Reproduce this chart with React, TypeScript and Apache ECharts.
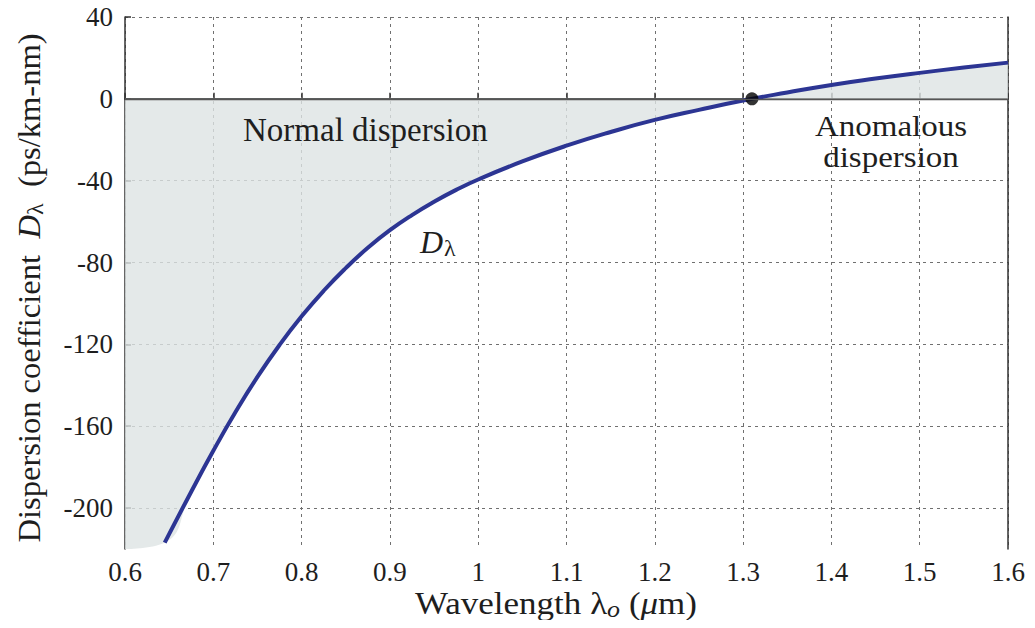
import React, { useEffect, useRef } from "react";
import * as echarts from "echarts";

const wavelength = [0.645, 0.675, 0.7, 0.725, 0.75, 0.775, 0.8, 0.825, 0.85, 0.875, 0.9, 0.925, 0.95, 0.975, 1.0, 1.05, 1.1, 1.15, 1.2, 1.25, 1.3, 1.35, 1.4, 1.45, 1.5, 1.55, 1.6];
const dispersion = [-216.9, -192, -172, -153.2, -135.9, -120.3, -106.3, -93.8, -82.7, -72.8, -64.2, -56.8, -50.3, -44.5, -39.4, -30.6, -22.9, -16.2, -10.3, -5.4, -0.85, 3.1, 6.8, 9.9, 12.7, 15.3, 17.7];
const yTicks = [-200, -160, -120, -80, -40, 0, 40];
const zeroPoint = [[1.31, 0]];
const xMin = 0.6, xMax = 1.6, yMin = -220, yMax = 40;

const FONT = '"Liberation Serif", "Times New Roman", serif';
const INK = "#1e1e1e";

export default function App() {
  const ref = useRef<HTMLDivElement>(null);
  useEffect(() => {
    const chart = echarts.init(ref.current!, null, { renderer: "svg" });
    const curve = wavelength.map((x, i) => [x, dispersion[i]]);
    const shade = [[xMin, yMin], ...curve];
    const gridLine = { show: true, lineStyle: { color: "#707070", type: [3, 4], width: 1 } };
    chart.setOption({
      animation: false,
      backgroundColor: "#fff",
      grid: { left: 125, right: 27, top: 17, bottom: 79 },
      xAxis: [
        {
          type: "value", min: xMin, max: xMax, interval: 0.1,
          axisLine: { show: true, lineStyle: { color: "#333", width: 1.5 } },
          axisTick: { show: true, inside: true, length: 6, lineStyle: { color: "#333", width: 1.5 } },
          axisLabel: { color: INK, fontFamily: FONT, fontSize: 27, margin: 9 },
          splitLine: gridLine,
        },
        {
          type: "value", min: xMin, max: xMax, position: "top",
          axisLine: { show: true, lineStyle: { color: "#333", width: 1.5 } },
          axisTick: { show: false }, axisLabel: { show: false }, splitLine: { show: false },
        },
      ],
      yAxis: [
        {
          type: "value", min: yMin, max: yMax,
          axisLine: { show: true, lineStyle: { color: "#333", width: 1.5 } },
          axisTick: { show: true, inside: true, length: 6, customValues: yTicks, lineStyle: { color: "#333", width: 1.5 } },
          axisLabel: { color: INK, fontFamily: FONT, fontSize: 27, margin: 12, customValues: yTicks },
          splitLine: gridLine,
        },
        {
          type: "value", min: yMin, max: yMax, position: "right",
          axisLine: { show: true, lineStyle: { color: "#333", width: 1.5 } },
          axisTick: { show: false }, axisLabel: { show: false }, splitLine: { show: false },
        },
      ],
      series: [
        {
          type: "line", data: shade, smooth: true, symbol: "none",
          lineStyle: { opacity: 0, width: 0 },
          areaStyle: { color: "#dde3e4", opacity: 0.8, origin: 0 },
          z: 1, silent: true,
          markLine: {
            symbol: "none", silent: true, label: { show: false },
            lineStyle: { color: "#555", type: "solid", width: 1.3 },
            data: [{ yAxis: 0 }],
          },
        },
        {
          type: "line", data: curve, smooth: true, symbol: "none",
          lineStyle: { color: "#2c3593", width: 4 }, z: 3,
        },
        {
          type: "scatter", data: zeroPoint, symbolSize: 13,
          itemStyle: { color: "#000" }, z: 4,
        },
      ],
      graphic: [
        { type: "text", z: 100, left: 243, top: 113, style: { text: "Normal dispersion", fontFamily: FONT, fontSize: 33, fill: INK } },
        { type: "text", z: 100, x: 891, y: 111, scaleX: 1.1, style: { text: "Anomalous\ndispersion", fontFamily: FONT, fontSize: 30, fill: INK, align: "center", lineHeight: 31 } },
        {
          type: "text", z: 100, x: 420, y: 224,
          style: {
            text: "{d|D}{s|λ}",
            rich: {
              d: { fontFamily: FONT, fontSize: 32, fontStyle: "italic", fill: INK },
              s: { fontFamily: FONT, fontSize: 24, fill: INK, padding: [12, 0, 0, 1] },
            },
          },
        },
        {
          type: "text", z: 100, x: 30, y: 288, rotation: Math.PI / 2, scaleX: 1.05,
          style: {
            text: "{t|Dispersion coefficient  }{d|D}{s|λ}{t|  (ps/km-nm)}",
            align: "center", verticalAlign: "middle",
            fontFamily: FONT, fontSize: 31, fill: INK,
            rich: {
              t: { fontFamily: FONT, fontSize: 31, fill: INK },
              d: { fontFamily: FONT, fontSize: 31, fontStyle: "italic", fill: INK },
              s: { fontFamily: FONT, fontSize: 23, fill: INK, padding: [11, 0, 0, 0] },
            },
          },
        },
        {
          type: "text", z: 100, x: 556, y: 604, scaleX: 1.13,
          style: {
            text: "{t|Wavelength }{l|λ}{s|o}{t| (}{m|μ}{t|m)}",
            align: "center", verticalAlign: "middle",
            fontFamily: FONT, fontSize: 31, fill: INK,
            rich: {
              t: { fontFamily: FONT, fontSize: 31, fill: INK },
              l: { fontFamily: FONT, fontSize: 31, fill: INK },
              s: { fontFamily: FONT, fontSize: 23, fontStyle: "italic", fill: INK, padding: [11, 0, 0, 0] },
              m: { fontFamily: FONT, fontSize: 31, fontStyle: "italic", fill: INK },
            },
          },
        },
      ],
    });
    return () => chart.dispose();
  }, []);
  return <div ref={ref} style={{ width: 1035, height: 628, margin: -8 }} />;
}
